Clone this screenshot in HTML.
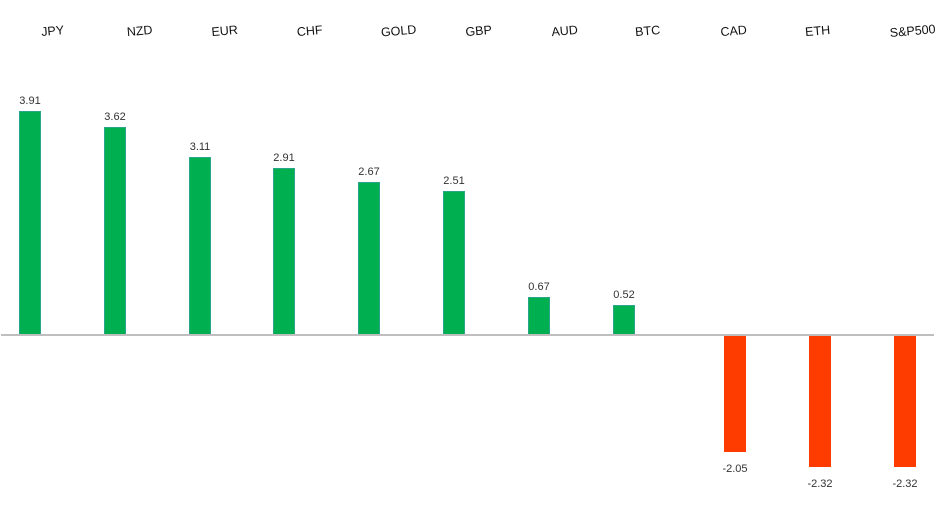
<!DOCTYPE html>
<html><head><style>
body{margin:0;background:#fff;}
</style></head><body>
<svg width="951" height="525" xmlns="http://www.w3.org/2000/svg" font-family="Liberation Sans, sans-serif">
<rect width="951" height="525" fill="#fff"/>
<g font-size="12.5" fill="#111" text-anchor="middle">
<text transform="translate(53,35) rotate(-5)">JPY</text>
<text transform="translate(140,35) rotate(-5)">NZD</text>
<text transform="translate(225,35) rotate(-5)">EUR</text>
<text transform="translate(310,35) rotate(-5)">CHF</text>
<text transform="translate(399,35) rotate(-5)">GOLD</text>
<text transform="translate(479,35) rotate(-5)">GBP</text>
<text transform="translate(565,35) rotate(-5)">AUD</text>
<text transform="translate(648,35) rotate(-5)">BTC</text>
<text transform="translate(734,35) rotate(-5)">CAD</text>
<text transform="translate(818,35) rotate(-5)">ETH</text>
<text transform="translate(913,35) rotate(-5)">S&amp;P500</text>
</g>
<g fill="#00b050" stroke="#2aa58a" stroke-width="1">
<rect x="19.5" y="111.5" width="21" height="223"/>
<rect x="104.5" y="127.5" width="21" height="207"/>
<rect x="189.5" y="157.5" width="21" height="177"/>
<rect x="273.5" y="168.5" width="21" height="166"/>
<rect x="358.5" y="182.5" width="21" height="152"/>
<rect x="443.5" y="191.5" width="21" height="143"/>
<rect x="528.5" y="297.5" width="21" height="37"/>
<rect x="613.5" y="305.5" width="21" height="29"/>
</g>
<g fill="#ff3c00">
<rect x="724" y="335" width="22" height="117"/>
<rect x="809" y="335" width="22" height="132"/>
<rect x="894" y="335" width="22" height="132"/>
</g>
<line x1="1" y1="335" x2="934" y2="335" stroke="#bfbfbf" stroke-width="2"/>
<g font-size="11" fill="#333" text-anchor="middle">
<text x="30" y="104">3.91</text>
<text x="115" y="120">3.62</text>
<text x="200" y="150">3.11</text>
<text x="284" y="161">2.91</text>
<text x="369" y="175">2.67</text>
<text x="454" y="184">2.51</text>
<text x="539" y="290">0.67</text>
<text x="624" y="298">0.52</text>
<text x="735" y="472">-2.05</text>
<text x="820" y="487">-2.32</text>
<text x="905" y="487">-2.32</text>
</g>
</svg>
</body></html>
